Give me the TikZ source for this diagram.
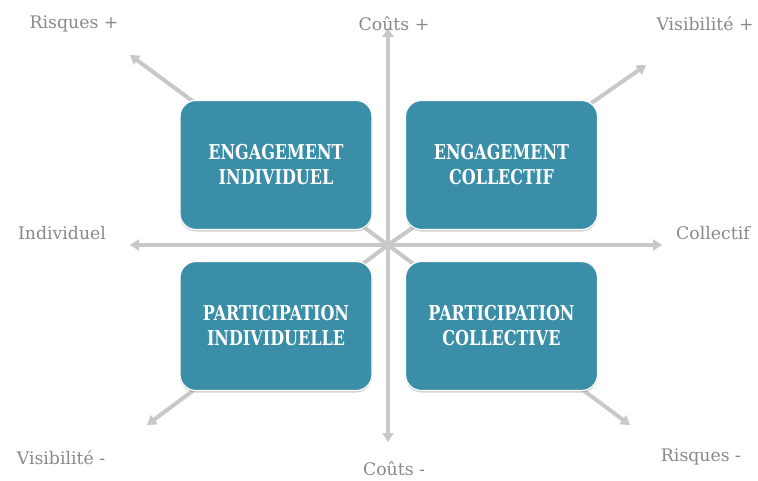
\documentclass[tikz,border=0pt]{standalone}
\usepackage{fontspec}
\setmainfont{DejaVu Serif}
\newfontfamily\boxfont[FakeStretch=0.78]{DejaVu Serif}
\usetikzlibrary{arrows.meta,shadows}
\definecolor{boxteal}{HTML}{3A8EA8}
\definecolor{axisgray}{HTML}{C8C8C8}
\definecolor{labelgray}{HTML}{8A8A8A}
\begin{document}
\begin{tikzpicture}[x=1pt,y=-1pt,
  axisline/.style={draw=axisgray,line width=4pt,-{Triangle[length=9pt,width=11pt]}},
  quadbox/.style={draw=white,line width=1.2pt,fill=boxteal,rounded corners=16pt,
    minimum width=192pt,minimum height=129pt,text=white,align=center,
    font=\boxfont\fontsize{20.5}{25}\selectfont\bfseries,
    drop shadow={shadow xshift=0pt,shadow yshift=-2pt,opacity=0.35}},
  axlabel/.style={text=labelgray,font=\fontsize{17.3}{20}\selectfont,inner sep=0pt}]
\useasboundingbox (0,0) rectangle (758,480);
\fill[white] (0,0) rectangle (758,480);
\coordinate (o) at (388,245);
\coordinate (top) at (388,28);
\coordinate (bot) at (388,442);
\coordinate (lft) at (130,245);
\coordinate (rgt) at (662,245);
\coordinate (tl) at (130,55);
\coordinate (tr) at (646,65);
\coordinate (bl) at (147,425);
\coordinate (br) at (630,425);
\foreach \t in {top,bot,lft,rgt,tl,tr,bl,br}
  \draw[axisline] (o) -- (\t);
\node[quadbox] (ei) at (276,165) {ENGAGEMENT\\INDIVIDUEL};
\node[quadbox] (ec) at (501.5,165) {ENGAGEMENT\\COLLECTIF};
\node[quadbox] (pi) at (276,326) {PARTICIPATION\\INDIVIDUELLE};
\node[quadbox] (pc) at (501.5,326) {PARTICIPATION\\COLLECTIVE};
\node[axlabel] (l1) at (74,24) {Risques +};
\node[axlabel] (l2) at (394,24) {Coûts +};
\node[axlabel] (l3) at (705,24) {Visibilité +};
\node[axlabel] (l4) at (62,233) {Individuel};
\node[axlabel] (l5) at (713,233) {Collectif};
\node[axlabel] (l6) at (61,458) {Visibilité -};
\node[axlabel] (l7) at (394,469) {Coûts -};
\node[axlabel] (l8) at (701,457) {Risques -};
\end{tikzpicture}
\end{document}
